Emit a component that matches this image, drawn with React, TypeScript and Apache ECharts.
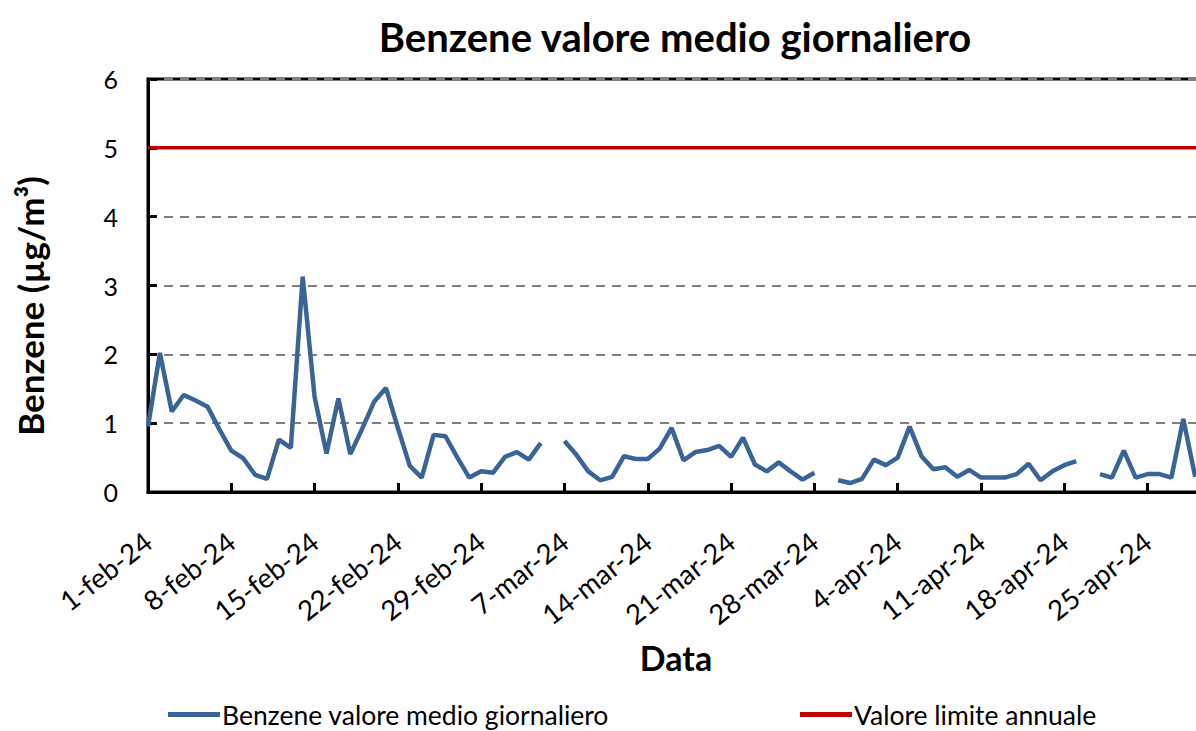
import React, { useEffect, useRef } from "react";
import * as echarts from "echarts";

// ---- data ----
const monthNames = ["feb", "mar", "apr"];
const monthDays = [29, 31, 30];

// daily mean benzene (µg/m³), null = missing day
const febValues = [
  0.95, 2.02, 1.17, 1.41, 1.33, 1.24, 0.91, 0.6, 0.49, 0.25,
  0.19, 0.76, 0.64, 3.13, 1.38, 0.56, 1.36, 0.55, 0.92, 1.31,
  1.51, 0.93, 0.38, 0.21, 0.83, 0.81, 0.5, 0.21, 0.3,
];
const marValues = [
  0.28, 0.51, 0.58, 0.47, 0.71, null, 0.74, 0.54, 0.3, 0.17,
  0.22, 0.52, 0.48, 0.48, 0.63, 0.93, 0.46, 0.58, 0.61, 0.67,
  0.51, 0.79, 0.4, 0.3, 0.43, 0.3, 0.18, 0.28, null, 0.17,
  0.13,
];
const aprValues = [
  0.19, 0.47, 0.39, 0.5, 0.95, 0.52, 0.33, 0.36, 0.22, 0.32,
  0.21, 0.21, 0.21, 0.26, 0.41, 0.17, 0.3, 0.39, 0.45, null,
  0.26, 0.21, 0.6, 0.21, 0.26, 0.26, 0.21, 1.06, 0.22, null,
];
const LIMIT_VALUE = 5;

const yTicks = { min: 0, max: 6, interval: 1 };

const SERIES_NAME = "Benzene valore medio giornaliero";
const LIMIT_NAME = "Valore limite annuale";
const TITLE = "Benzene valore medio giornaliero";
const Y_NAME = "Benzene (µg/m³)";
const X_NAME = "Data";

const categories: string[] = [];
monthNames.forEach((m, i) => {
  for (let d = 1; d <= monthDays[i]; d++) categories.push(`${d}-${m}-24`);
});
const values = [...febValues, ...marValues, ...aprValues];

const FONT = "Lato, 'Open Sans', sans-serif";

export default function App() {
  const ref = useRef<HTMLDivElement>(null);
  useEffect(() => {
    if (!ref.current) return;
    const chart = echarts.init(ref.current, undefined, { renderer: "svg" });
    const gridLeft = 148;
    const step = 11.9;
    const gridWidth = step * (categories.length - 1);
    const legendText = {
      fontFamily: FONT,
      fontSize: 26.5,
      lineHeight: 26,
      color: "#000",
      padding: [0, 0, 0, -3],
    };
    chart.setOption({
      animation: false,
      backgroundColor: "#ffffff",
      title: {
        text: TITLE,
        left: 670,
        top: 12,
        textAlign: "center",
        textStyle: { fontFamily: FONT, fontWeight: "bold", fontSize: 40, color: "#000" },
      },
      legend: [
        {
          data: [SERIES_NAME],
          left: 163,
          top: 696,
          icon: "rect",
          itemWidth: 52,
          itemHeight: 5,
          itemGap: 0,
          textStyle: legendText,
        },
        {
          data: [LIMIT_NAME],
          left: 795,
          top: 696,
          icon: "rect",
          itemWidth: 52,
          itemHeight: 5,
          itemGap: 0,
          textStyle: legendText,
        },
      ],
      grid: {
        left: gridLeft,
        top: 79,
        width: gridWidth,
        height: 413,
        show: true,
        borderColor: "#000",
        borderWidth: 3,
        outerBoundsMode: "none",
        containLabel: false,
      },
      xAxis: {
        type: "category",
        data: categories,
        boundaryGap: false,
        axisLine: { show: true, lineStyle: { color: "#000", width: 3 } },
        axisTick: { show: true, inside: true, length: 9, interval: 6, lineStyle: { color: "#000", width: 3 } },
        axisLabel: {
          interval: 6,
          rotate: 38,
          margin: 46,
          fontFamily: FONT,
          fontSize: 27.5,
          color: "#000",
        },
        splitLine: { show: false },
      },
      yAxis: {
        type: "value",
        min: yTicks.min,
        max: yTicks.max,
        interval: yTicks.interval,
        axisLine: { show: true, lineStyle: { color: "#000", width: 3 } },
        axisTick: { show: true, inside: true, length: 9, lineStyle: { color: "#000", width: 3 } },
        axisLabel: { margin: 30, fontFamily: FONT, fontSize: 25, color: "#000" },
        splitLine: { show: true, lineStyle: { color: "#808080", width: 2, type: [9, 7] } },
      },
      graphic: [
        {
          type: "text",
          x: 30,
          y: 306,
          rotation: Math.PI / 2,
          style: {
            text: Y_NAME,
            fontFamily: FONT,
            fontWeight: "bold",
            fontSize: 35,
            fill: "#000",
            align: "center",
            verticalAlign: "middle",
          },
        },
        {
          type: "text",
          x: 676,
          y: 657,
          style: {
            text: X_NAME,
            fontFamily: FONT,
            fontWeight: "bold",
            fontSize: 34,
            fill: "#000",
            align: "center",
            verticalAlign: "middle",
          },
        },
      ],
      series: [
        {
          name: SERIES_NAME,
          type: "line",
          data: values,
          symbol: "none",
          connectNulls: false,
          color: "#3a6496",
          lineStyle: { color: "#3a6496", width: 4.5 },
          z: 3,
        },
        {
          name: LIMIT_NAME,
          type: "line",
          data: [
            [categories[0], LIMIT_VALUE],
            [categories[categories.length - 1], LIMIT_VALUE],
          ],
          symbol: "none",
          color: "#c00000",
          lineStyle: { color: "#c00000", width: 3.5 },
          z: 4,
        },
      ],
    });
    return () => chart.dispose();
  }, []);
  return (
    <div
      ref={ref}
      style={{ position: "fixed", left: 0, top: 0, width: 1196, height: 731, background: "#fff" }}
    />
  );
}
